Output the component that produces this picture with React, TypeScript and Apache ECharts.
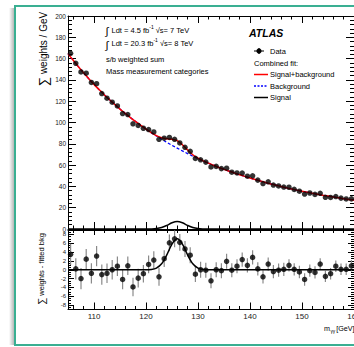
import React, { useEffect, useRef } from "react";
import * as echarts from "echarts";

// ---- data ----
const BIN_CENTERS = [
  105.5, 106.5, 107.5, 108.5, 109.5, 110.5, 111.5, 112.5, 113.5, 114.5,
  115.5, 116.5, 117.5, 118.5, 119.5, 120.5, 121.5, 122.5, 123.5, 124.5,
  125.5, 126.5, 127.5, 128.5, 129.5, 130.5, 131.5, 132.5, 133.5, 134.5,
  135.5, 136.5, 137.5, 138.5, 139.5, 140.5, 141.5, 142.5, 143.5, 144.5,
  145.5, 146.5, 147.5, 148.5, 149.5, 150.5, 151.5, 152.5, 153.5, 154.5,
  155.5, 156.5, 157.5, 158.5, 159.5,
];
const DATA_WEIGHTS = [
  165.0, 155.6, 147.5, 146.3, 137.6, 136.4, 127.2, 122.8, 119.1, 115.5,
  108.4, 107.5, 98.8, 97.2, 94.6, 93.4, 91.1, 84.2, 85.3, 86.0,
  84.2, 80.8, 76.7, 72.9, 66.3, 65.0, 62.8, 58.3, 58.8, 56.7,
  57.1, 53.3, 52.6, 52.5, 49.6, 49.9, 45.9, 42.7, 44.3, 41.3,
  40.4, 39.4, 39.2, 37.2, 35.5, 32.8, 33.8, 32.5, 33.5, 29.8,
  29.6, 30.5, 29.0, 28.2, 28.3,
];
const RESIDUALS = [
  3.5, 0.2, -2.0, 2.4, -0.8, 3.1, -1.1, -0.8, 0.0, 0.8,
  -2.2, 0.9, -3.9, -1.9, -0.9, 1.2, 2.2, -1.6, 2.5, 6.1,
  7.0, 6.2, 4.7, 3.3, -1.0, 0.0, -0.1, -2.5, 0.0, -0.2,
  1.9, -0.1, 0.8, 2.3, 1.0, 2.8, 0.2, -1.6, 1.3, -0.4,
  -0.1, 0.1, 1.0, 0.1, -0.5, -2.2, -0.2, -0.6, 1.3, -1.5,
  -0.9, 0.8, 0.1, 0.1, 0.9,
];
const RESIDUAL_ERRORS = [
  2.4, 2.4, 2.4, 2.3, 2.3, 2.3, 2.3, 2.2, 2.2, 2.2,
  2.2, 2.1, 2.1, 2.1, 2.0, 2.0, 2.0, 2.0, 1.9, 1.9,
  1.9, 1.9, 1.8, 1.8, 1.8, 1.8, 1.7, 1.7, 1.7, 1.7,
  1.7, 1.6, 1.6, 1.6, 1.6, 1.6, 1.5, 1.5, 1.5, 1.5,
  1.5, 1.5, 1.4, 1.4, 1.4, 1.4, 1.4, 1.4, 1.3, 1.3,
  1.3, 1.3, 1.3, 1.3, 1.3,
];
const FIT_MASS = [
  105, 106, 107, 108, 109, 110, 111, 112, 113, 114,
  115, 116, 117, 118, 119, 120, 121, 122, 123, 124,
  125, 126, 127, 128, 129, 130, 131, 132, 133, 134,
  135, 136, 137, 138, 139, 140, 141, 142, 143, 144,
  145, 146, 147, 148, 149, 150, 151, 152, 153, 154,
  155, 156, 157, 158, 159, 160,
];
const BKG_FIT = [
  164.7, 158.4, 152.4, 146.7, 141.1, 135.8, 130.8, 125.9, 121.3, 116.9,
  112.6, 108.6, 104.6, 100.9, 97.3, 93.8, 90.5, 87.3, 84.3, 81.3,
  78.5, 75.9, 73.3, 70.8, 68.4, 66.1, 63.9, 61.8, 59.8, 57.8,
  56.0, 54.3, 52.6, 51.0, 49.4, 47.9, 46.4, 45.0, 43.6, 42.3,
  41.1, 39.9, 38.7, 37.6, 36.5, 35.5, 34.5, 33.5, 32.6, 31.7,
  30.9, 30.1, 29.3, 28.5, 27.8, 27.1,
];
const SIGNAL_FIT = [
  0, 0, 0, 0, 0, 0, 0, 0, 0, 0,
  0, 0, 0, 0, 0, 0, 0.07, 0.37, 1.34, 3.36,
  5.82, 7.0, 5.82, 3.36, 1.34, 0.37, 0.07, 0, 0, 0,
  0, 0, 0, 0, 0, 0, 0, 0, 0, 0,
  0, 0, 0, 0, 0, 0, 0, 0, 0, 0,
  0, 0, 0, 0, 0, 0,
];
const X_MAJOR = [110, 120, 130, 140, 150, 160];
const X_MINOR = [
  106, 108, 110, 112, 114, 116, 118, 120, 122, 124, 126, 128, 130, 132,
  134, 136, 138, 140, 142, 144, 146, 148, 150, 152, 154, 156, 158, 160,
];
const RES_MAJOR = [-8, -6, -4, -2, 0, 2, 4, 6, 8];

const FONT = "'Liberation Sans', Arial, Helvetica, sans-serif";
const TEAL = "#3aaf92";

function mkX(gridIndex: number, position: string, vals: number[], len: number, line: boolean, labels: boolean) {
  return {
    type: "value", gridIndex, position, min: 105, max: 160,
    axisLine: { show: line, onZero: false, lineStyle: { color: "#000", width: 1 } },
    axisTick: { show: true, inside: true, length: len, customValues: vals, lineStyle: { color: "#000", width: 1 } },
    axisLabel: { show: labels, customValues: vals, margin: 3, fontSize: 8, color: "#222", fontFamily: FONT },
    splitLine: { show: false },
  };
}
function mkY(gridIndex: number, position: string, min: number, max: number, spec: any, len: number, line: boolean, labels: boolean, fs: number) {
  return {
    type: "value", gridIndex, position, min, max, ...(spec.interval ? { interval: spec.interval } : {}),
    axisLine: { show: line, onZero: false, lineStyle: { color: "#000", width: 1 } },
    axisTick: { show: true, inside: true, length: len, ...(spec.custom ? { customValues: spec.custom } : {}), lineStyle: { color: "#000", width: 1 } },
    axisLabel: { show: labels, ...(spec.custom ? { customValues: spec.custom } : {}), margin: 2, fontSize: fs, color: "#222", fontFamily: FONT },
    splitLine: { show: false },
  };
}

function txt(x: number, y: number, text: string, fontSize: number, extra: any = {}) {
  return {
    type: "text", x, y, silent: true,
    style: { text, fontSize, fontFamily: FONT, fill: "#000", align: "left", verticalAlign: "middle", textAlign: "left", textVerticalAlign: "middle", ...extra },
  };
}

export default function App() {
  const ref = useRef<HTMLDivElement>(null);
  useEffect(() => {
    const chart = echarts.init(ref.current!, null, { renderer: "svg" });
    const dataPts = BIN_CENTERS.map((x, i) => [x, DATA_WEIGHTS[i]]);
    const resPts = BIN_CENTERS.map((x, i) => [x, RESIDUALS[i]]);
    const errPts = BIN_CENTERS.map((x, i) => [x, RESIDUALS[i], RESIDUAL_ERRORS[i]]);
    const bkgPts = FIT_MASS.map((x, i) => [x, BKG_FIT[i]]);
    const sbPts = FIT_MASS.map((x, i) => [x, BKG_FIT[i] + SIGNAL_FIT[i]]);
    const sigPts = FIT_MASS.map((x, i) => [x, SIGNAL_FIT[i]]);

    const supRich = { sup: { fontSize: 5, fontFamily: FONT, verticalAlign: "top", lineHeight: 9 }, n: { fontSize: 7.5, fontFamily: FONT, lineHeight: 12 } };

    const option: any = {
      animation: false,
      backgroundColor: "#fff",
      grid: [
        { left: 68, top: 16, width: 286, height: 213, outerBoundsMode: "none", containLabel: false },
        { left: 68, top: 230, width: 286, height: 79.5, outerBoundsMode: "none", containLabel: false },
      ],
      xAxis: [
        mkX(0, "bottom", X_MAJOR, 7, true, false),
        mkX(0, "bottom", X_MINOR, 3.5, false, false),
        mkX(0, "top", X_MAJOR, 7, true, false),
        mkX(0, "top", X_MINOR, 3.5, false, false),
        mkX(1, "bottom", X_MAJOR, 7, true, true),
        mkX(1, "bottom", X_MINOR, 3.5, false, false),
        mkX(1, "top", X_MAJOR, 5, true, false),
        mkX(1, "top", X_MINOR, 3, false, false),
      ],
      yAxis: [
        mkY(0, "left", 0, 200, { interval: 20 }, 8, true, true, 6.5),
        mkY(0, "left", 0, 200, { interval: 4 }, 4, false, false, 6),
        mkY(0, "right", 0, 200, { interval: 20 }, 8, true, false, 6),
        mkY(0, "right", 0, 200, { interval: 4 }, 4, false, false, 6),
        mkY(1, "left", -9, 9, { custom: RES_MAJOR }, 6, true, true, 6),
        mkY(1, "left", -9, 9, { interval: 0.5 }, 3, false, false, 6),
        mkY(1, "right", -9, 9, { custom: RES_MAJOR }, 6, true, false, 6),
        mkY(1, "right", -9, 9, { interval: 0.5 }, 3, false, false, 6),
      ],
      series: [
        { type: "line", xAxisIndex: 0, yAxisIndex: 0, data: bkgPts, symbol: "none", z: 2,
          lineStyle: { color: "#0000ff", width: 1.3, type: [3, 2] } },
        { type: "line", xAxisIndex: 0, yAxisIndex: 0, data: sbPts, symbol: "none", smooth: 0.3, z: 3,
          lineStyle: { color: "#ff0000", width: 1.5 } },
        { type: "line", xAxisIndex: 0, yAxisIndex: 0, data: sigPts, symbol: "none", smooth: 0.3, z: 3,
          lineStyle: { color: "#000", width: 1.5 } },
        { type: "scatter", xAxisIndex: 0, yAxisIndex: 0, data: dataPts, symbol: "circle", symbolSize: 5.5, z: 5,
          itemStyle: { color: "#000" } },
        { type: "line", xAxisIndex: 4, yAxisIndex: 4, data: sigPts, symbol: "none", smooth: 0.3, z: 3,
          lineStyle: { color: "#000", width: 1.5 } },
        { type: "custom", xAxisIndex: 4, yAxisIndex: 4, data: errPts, z: 2,
          renderItem: (params: any, api: any) => {
            const x = api.value(0), y = api.value(1), e = api.value(2);
            const p1 = api.coord([x, y + e]);
            const p2 = api.coord([x, y - e]);
            return { type: "line", shape: { x1: p1[0], y1: p1[1], x2: p2[0], y2: p2[1] }, style: { stroke: "#8a8a8a", lineWidth: 1.2 } };
          } },
        { type: "scatter", xAxisIndex: 4, yAxisIndex: 4, data: resPts, symbol: "circle", symbolSize: 5.5, z: 5,
          itemStyle: { color: "#000" } },
      ],
      graphic: [
        { type: "rect", silent: true, shape: { x: 9, y: 8, width: 5, height: 337 },
          style: { fill: new echarts.graphic.LinearGradient(0, 0, 1, 0, [
            { offset: 0, color: "rgba(0,0,0,0)" }, { offset: 1, color: "rgba(0,0,0,0.28)" }]) } },
        { type: "rect", silent: true, shape: { x: 15, y: 6, width: 380, height: 339 },
          style: { fill: "none", stroke: TEAL, lineWidth: 2 } },
        // axis titles
        { type: "text", x: 43.5, y: 49, rotation: Math.PI / 2, silent: true,
          style: { text: "{s|∑} weights / GeV", rich: { s: { fontSize: 13, fontFamily: FONT } }, fontSize: 10, fontFamily: FONT, fill: "#000",
            align: "center", verticalAlign: "middle", textAlign: "center", textVerticalAlign: "middle" } },
        { type: "text", x: 41.5, y: 269, rotation: Math.PI / 2, silent: true,
          style: { text: "{s|∑} weights - fitted bkg", rich: { s: { fontSize: 10, fontFamily: FONT } }, fontSize: 7.5, fontFamily: FONT, fill: "#000",
            align: "center", verticalAlign: "middle", textAlign: "center", textVerticalAlign: "middle" } },
        txt(330, 328, "m", 7.2, { align: "right", textAlign: "right" }),
        txt(330.4, 331.5, "γγ", 4.8),
        txt(336.2, 328, "[GeV]", 7.2),
        // annotation texts
        txt(105.5, 31, "∫", 11),
        { type: "text", x: 111.5, y: 30, silent: true,
          style: { text: "{n|Ldt = 4.5 fb}{sup|-1}{n| √s= 7 TeV}", rich: supRich, fontSize: 7.5, fontFamily: FONT, fill: "#000",
            align: "left", verticalAlign: "middle", textAlign: "left", textVerticalAlign: "middle" } },
        txt(105.5, 44.5, "∫", 11),
        { type: "text", x: 111.5, y: 43.5, silent: true,
          style: { text: "{n|Ldt = 20.3 fb}{sup|-1}{n| √s= 8 TeV}", rich: supRich, fontSize: 7.5, fontFamily: FONT, fill: "#000",
            align: "left", verticalAlign: "middle", textAlign: "left", textVerticalAlign: "middle" } },
        txt(106, 59, "s/b weighted sum", 7.5),
        txt(106, 71.7, "Mass measurement categories", 7.5),
        txt(249, 33, "ATLAS", 10.5, { fontWeight: "bold", fontStyle: "italic" }),
        // legend
        { type: "line", silent: true, shape: { x1: 254, y1: 51, x2: 264, y2: 51 }, style: { stroke: "#000", lineWidth: 1 } },
        { type: "line", silent: true, shape: { x1: 259, y1: 48, x2: 259, y2: 54 }, style: { stroke: "#000", lineWidth: 1 } },
        { type: "circle", silent: true, shape: { cx: 259, cy: 51, r: 2.6 }, style: { fill: "#000" } },
        txt(270, 51, "Data", 7.5),
        txt(254, 63.5, "Combined fit:", 7.5),
        { type: "line", silent: true, shape: { x1: 254, y1: 74.5, x2: 268, y2: 74.5 }, style: { stroke: "#ff0000", lineWidth: 1.5 } },
        txt(270, 74.5, "Signal+background", 7.5),
        { type: "line", silent: true, shape: { x1: 254, y1: 86, x2: 268, y2: 86 }, style: { stroke: "#0000ff", lineWidth: 1.3, lineDash: [2, 1.5] } },
        txt(270, 86, "Background", 7.5),
        { type: "line", silent: true, shape: { x1: 254, y1: 97.5, x2: 268, y2: 97.5 }, style: { stroke: "#000", lineWidth: 1.5 } },
        txt(270, 97.5, "Signal", 7.5),
      ],
    };
    chart.setOption(option);
    return () => chart.dispose();
  }, []);
  return <div ref={ref} style={{ position: "absolute", left: 0, top: 0, width: 354, height: 347, background: "#fff" }} />;
}
